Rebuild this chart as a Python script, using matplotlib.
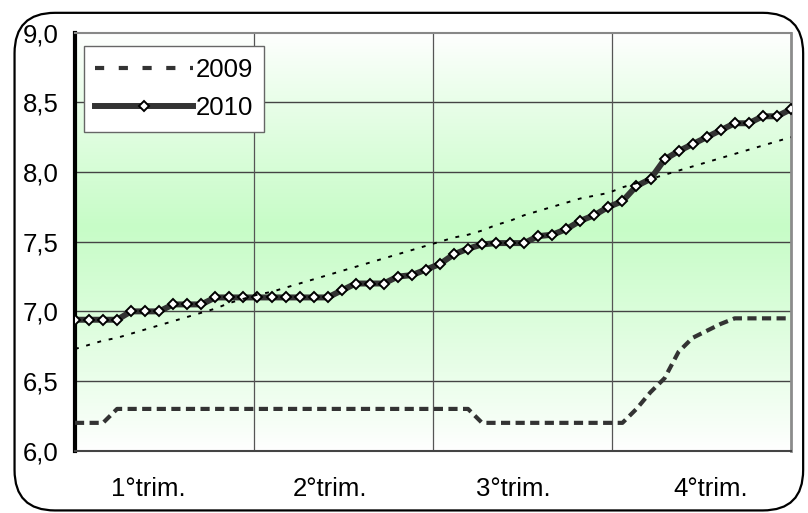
import numpy as np
import matplotlib
matplotlib.use("Agg")
import matplotlib.pyplot as plt
from matplotlib.lines import Line2D
from matplotlib.patches import FancyBboxPatch

plt.rcParams["font.family"] = ["Liberation Sans", "DejaVu Sans"]

# weekly values, 52 weeks
rate_2010 = [6.94, 6.94, 6.94, 6.94, 7.00, 7.00, 7.00, 7.05, 7.05, 7.05,
             7.10, 7.10, 7.10, 7.10, 7.10, 7.10, 7.10, 7.10, 7.10, 7.15,
             7.20, 7.20, 7.20, 7.25, 7.26, 7.30, 7.34, 7.41, 7.45, 7.48,
             7.49, 7.49, 7.49, 7.54, 7.55, 7.59, 7.65, 7.69, 7.75, 7.79,
             7.90, 7.95, 8.09, 8.15, 8.20, 8.25, 8.30, 8.35, 8.35, 8.40,
             8.40, 8.45]

trend_2009 = [6.73, 6.76, 6.79, 6.81, 6.84, 6.87, 6.90, 6.93, 6.96, 6.99,
              7.02, 7.06, 7.09, 7.12, 7.14, 7.17, 7.20, 7.23, 7.26, 7.29,
              7.32, 7.35, 7.38, 7.41, 7.44, 7.47, 7.50, 7.53, 7.55, 7.58,
              7.62, 7.65, 7.69, 7.72, 7.75, 7.78, 7.81, 7.83, 7.85, 7.89,
              7.92, 7.95, 7.98, 8.01, 8.04, 8.07, 8.10, 8.13, 8.16, 8.19,
              8.22, 8.25]

rate_2009 = [6.20, 6.20, 6.20, 6.30, 6.30, 6.30, 6.30, 6.30, 6.30, 6.30,
             6.30, 6.30, 6.30, 6.30, 6.30, 6.30, 6.30, 6.30, 6.30, 6.30,
             6.30, 6.30, 6.30, 6.30, 6.30, 6.30, 6.30, 6.30, 6.30, 6.20,
             6.20, 6.20, 6.20, 6.20, 6.20, 6.20, 6.20, 6.20, 6.20, 6.20,
             6.30, 6.42, 6.52, 6.71, 6.81, 6.86, 6.91, 6.95, 6.95, 6.95,
             6.95, 6.95]

quarters = ["1°trim.", "2°trim.", "3°trim.", "4°trim."]
y_ticks = [6.0, 6.5, 7.0, 7.5, 8.0, 8.5, 9.0]

weeks = np.arange(len(rate_2010))

fig = plt.figure(figsize=(8.08, 5.13), dpi=100)
ax = fig.add_axes([0.0928, 0.1214, 0.886, 0.8149])

# rounded frame around the chart
frame = FancyBboxPatch((0.018, 0.005), 0.976, 0.97, transform=fig.transFigure,
                       boxstyle="round,pad=0,rounding_size=0.05",
                       facecolor="none", edgecolor="black", lw=1.6,
                       mutation_aspect=808 / 513)
fig.patches.append(frame)

xmax = len(weeks) - 1
ax.set_xlim(0, xmax)
ax.set_ylim(6.0, 9.0)

# green band background
yy = np.linspace(6.0, 9.0, 300)
w = np.where(yy < 7.6, (yy - 6.0) / 1.6, (9.0 - yy) / 1.4)
w = np.clip(w, 0, 1) ** 0.9
green = np.array([0.78, 0.99, 0.78])
img = 1 - w[:, None] * (1 - green[None, :])
ax.imshow(img[:, None, :], extent=[0, xmax, 6.0, 9.0], origin="lower",
          aspect="auto", zorder=0, interpolation="bilinear")

for y in y_ticks[1:-1]:
    ax.axhline(y, color="#444444", lw=1.0, zorder=1)
for k in range(1, 4):
    ax.axvline(xmax * k / 4, color="#555555", lw=0.9, zorder=1)

ax.plot(weeks, rate_2009, color="#333333", lw=3.0, dashes=(2.2, 1.3),
        solid_capstyle="butt", zorder=3)
ax.plot(weeks, rate_2010, color="#333333", lw=4.3, zorder=4,
        marker="D", markersize=5.5, markerfacecolor="white",
        markeredgecolor="black", markeredgewidth=1.4)
ax.plot(weeks, trend_2009, color="black", lw=1.4, dashes=(2, 4), zorder=5)

ax.set_yticks(y_ticks)
ax.set_yticklabels([f"{v:.1f}".replace(".", ",") for v in y_ticks])
ax.set_xticks([5.2, 18.2, 31.2, 45.3])
ax.set_xticklabels(quarters)
ax.tick_params(axis="both", length=0, labelsize=18.5)
ax.tick_params(axis="x", pad=19)
ax.tick_params(axis="y", pad=12)

ax.spines["left"].set_color("black")
ax.spines["left"].set_linewidth(3)
ax.spines["bottom"].set_color("#444444")
ax.spines["bottom"].set_linewidth(1.5)
ax.spines["right"].set_color("#8c8c8c")
ax.spines["right"].set_linewidth(2)
ax.spines["top"].set_color("#888888")
ax.spines["top"].set_linewidth(1.5)

handles = [
    Line2D([], [], color="#333333", lw=3.0, dashes=(2.2, 3.5)),
    Line2D([], [], color="#333333", lw=4.3, marker="D", markersize=5.5,
           markerfacecolor="white", markeredgecolor="black",
           markeredgewidth=1.4),
]
leg = ax.legend(handles, ["2009", "2010"], loc="upper left",
                bbox_to_anchor=(0.012, 0.967), fontsize=18.5, frameon=True,
                fancybox=False, edgecolor="#666666", framealpha=1,
                handlelength=3.8, handletextpad=0.1, borderpad=0.45,
                labelspacing=0.55, borderaxespad=0, numpoints=1)
leg.get_frame().set_linewidth(1.0)

fig.savefig("out.png", dpi=100)
plt.close(fig)
